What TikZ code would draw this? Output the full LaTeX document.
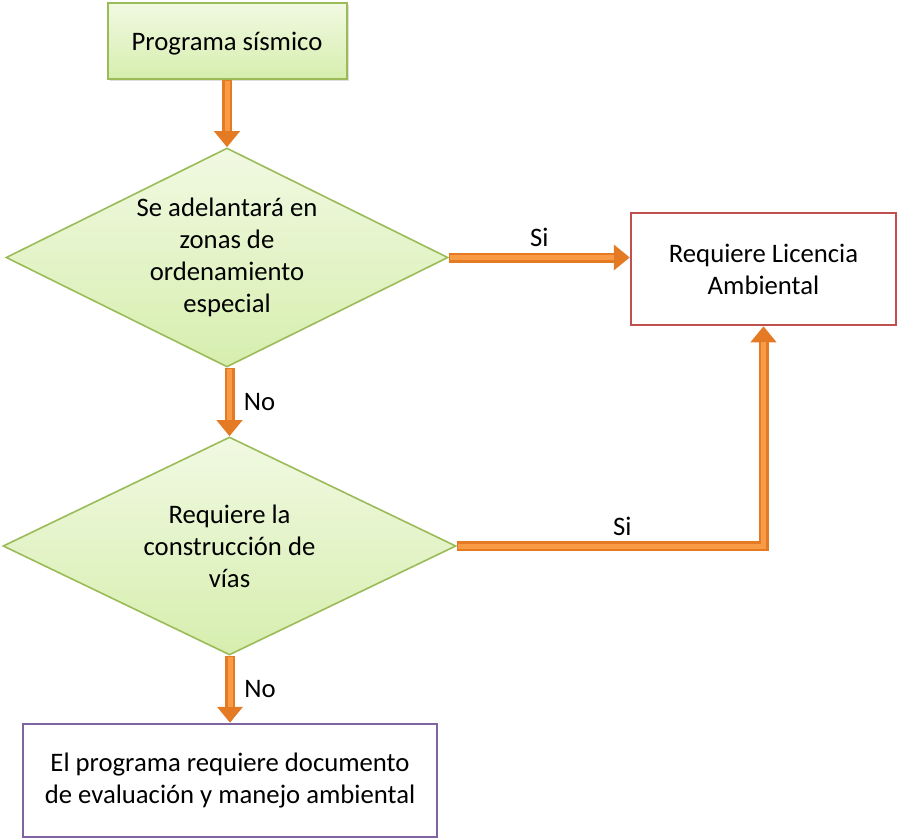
\documentclass[tikz,border=0pt]{standalone}
\usepackage{fontspec}
\setmainfont{Carlito}
\usetikzlibrary{shapes.geometric,arrows.meta,shadows}

\definecolor{leafedge}{HTML}{9BBB59}
\definecolor{leaftop}{HTML}{F1F9E2}
\definecolor{leafbot}{HTML}{D6EEAE}
\definecolor{orangemain}{HTML}{E57A24}
\definecolor{orangelight}{HTML}{F99B45}
\definecolor{redline}{HTML}{C0504D}
\definecolor{purpleline}{HTML}{8064A2}

\tikzset{
  label text/.style={font=\fontsize{26.7}{32}\selectfont},
  startbox/.style={label text, draw=leafedge, line width=2pt,
    top color=leaftop, bottom color=leafbot,
    minimum width=239pt, minimum height=76pt, inner sep=0pt,
    text height=20pt, text depth=0pt,
    drop shadow={opacity=0.25, shadow xshift=2pt, shadow yshift=-2pt}},
  decision/.style={label text, diamond, aspect=2, draw=leafedge, line width=1.6pt,
    top color=leaftop, bottom color=leafbot, align=center, inner sep=0pt},
  resultbox/.style={label text, draw=#1, line width=2.5pt, fill=white,
    align=center, inner sep=0pt},
  flow/.style={draw=orangemain, line width=10pt,
    -{Triangle[width=25pt,length=16pt]},
    postaction={draw=orangelight, line width=5pt, -, shorten >=16pt, shorten <=1pt}},
  answer/.style={label text, text=black}
}

\begin{document}
\begin{tikzpicture}[x=1pt,y=-1pt]
\useasboundingbox[fill=white] (0,0) rectangle (897,840);

% process nodes
\node[startbox] (start) at (227,41) {Programa sísmico};
\node[decision, minimum width=442pt, minimum height=219pt] (zonas) at (227,257.5)
  {Se adelantará en\\zonas de\\ordenamiento\\especial};
\node[decision, minimum width=453pt, minimum height=218pt] (vias) at (229.5,546)
  {Requiere la\\construcción de\\vías};
\node[resultbox=redline, minimum width=265pt, minimum height=112pt] (licencia) at (763.5,269)
  {Requiere Licencia\\Ambiental};
\node[resultbox=purpleline, minimum width=414pt, minimum height=113pt] (dema) at (230,780.5)
  {El programa requiere documento\\de evaluación y manejo ambiental};

% connectors
\draw[flow] (start.south) -- (start.south |- zonas.north);
\draw[flow] (zonas.south -| vias.north) -- node[answer, right=6pt] {No} (vias.north);
\draw[flow] (zonas.east) -- node[answer, above=2pt] {Si} (zonas.east -| licencia.west);
\draw[flow] (vias.east) -| node[answer, above=2pt, pos=0.27] {Si} (licencia.south);
\draw[flow] (vias.south -| dema.north) -- node[answer, right=6pt] {No} (dema.north);
\end{tikzpicture}
\end{document}
